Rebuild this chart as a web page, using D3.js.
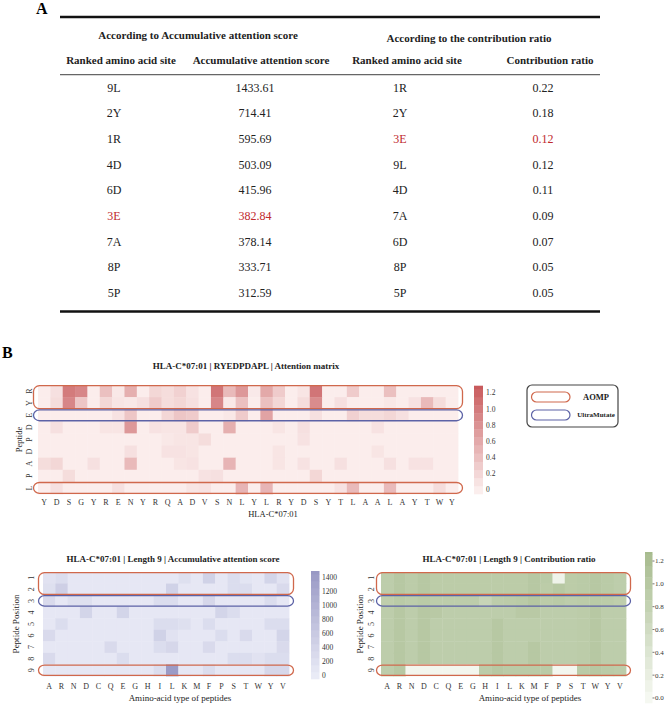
<!DOCTYPE html>
<html><head><meta charset="utf-8">
<script src="https://cdn.jsdelivr.net/npm/d3@7"></script>
<style>
body{margin:0;background:#fff}
svg{display:block;font-family:"Liberation Serif","Times New Roman",serif}
</style>
</head><body>
<svg id="c" width="666" height="706"></svg>
<script>
// ---------------- DATA ----------------
const scoreSites   = ["9L","2Y","1R","4D","6D","3E","7A","8P","5P"];
const scoreValues  = [1433.61, 714.41, 595.69, 503.09, 415.96, 382.84, 378.14, 333.71, 312.59];
const ratioSites   = ["1R","2Y","3E","9L","4D","7A","6D","8P","5P"];
const ratioValues  = [0.22, 0.18, 0.12, 0.12, 0.11, 0.09, 0.07, 0.05, 0.05];
const highlightSite = "3E";

const peptideResidues = ["R","Y","E","D","P","D","A","P","L"];
const hlaResidues = ["Y","D","S","G","Y","R","E","N","Y","R","Q","A","D","V","S","N","L","Y","L","R","Y","D","S","Y","T","L","A","A","L","A","Y","T","W","Y"];
const attnR = [0.01,0.12,1.00,0.90,0.01,0.40,0.05,0.55,0.01,0.20, 0.15,0.25,0.10,0.01,1.05,0.45,0.75,0.04,0.60,0.30, 0.01,0.08,1.05,0.01,0.01,0.30,0.01,0.01,0.40,0.01, 0.01,0.01,0.01,0.01];
const attnY = [0.01,0.15,0.90,0.35,0.01,0.20,0.08,0.05,0.12,0.30, 0.15,0.20,0.12,0.01,0.90,0.05,0.40,0.01,0.40,0.20, 0.01,0.15,0.85,0.01,0.12,0.01,0.01,0.01,0.05,0.01, 0.10,0.45,0.15,0.01];
const attnE = [0.01,0.01,0.01,0.01,0.01,0.01,0.10,0.35,0.01,0.01, 0.20,0.35,0.30,0.01,0.01,0.05,0.30,0.01,0.65,0.01, 0.01,0.01,0.12,0.01,0.01,0.25,0.15,0.15,0.20,0.12, 0.01,0.01,0.01,0.01];
const attnD4 = [0.01,0.12,0.01,0.01,0.01,0.08,0.08,0.75,0.01,0.10, 0.08,0.08,0.30,0.01,0.01,0.55,0.01,0.01,0.01,0.08, 0.01,0.12,0.01,0.01,0.01,0.01,0.01,0.10,0.01,0.01, 0.01,0.01,0.01,0.01];
const attnP5 = [0.01,0.01,0.01,0.01,0.01,0.01,0.01,0.01,0.01,0.01, 0.05,0.08,0.08,0.15,0.01,0.01,0.01,0.01,0.01,0.01, 0.01,0.10,0.01,0.01,0.01,0.01,0.01,0.01,0.01,0.01, 0.01,0.01,0.01,0.01];
const attnD6 = [0.01,0.01,0.01,0.01,0.01,0.01,0.01,0.12,0.01,0.01, 0.10,0.10,0.08,0.01,0.01,0.01,0.01,0.01,0.01,0.08, 0.01,0.01,0.01,0.01,0.01,0.01,0.01,0.08,0.01,0.01, 0.01,0.01,0.01,0.01];
const attnA = [0.15,0.20,0.01,0.01,0.12,0.01,0.01,0.45,0.01,0.01, 0.01,0.08,0.10,0.01,0.01,0.50,0.01,0.01,0.01,0.08, 0.01,0.10,0.01,0.01,0.12,0.01,0.01,0.01,0.12,0.01, 0.10,0.10,0.01,0.01];
const attnP8 = [0.01,0.01,0.15,0.01,0.01,0.01,0.01,0.01,0.01,0.01, 0.01,0.01,0.01,0.10,0.12,0.01,0.01,0.01,0.01,0.01, 0.01,0.01,0.20,0.01,0.01,0.01,0.01,0.01,0.01,0.01, 0.01,0.01,0.01,0.01];
const attnL = [0.01,0.12,0.01,0.01,0.01,0.01,0.12,0.01,0.01,0.01, 0.01,0.01,0.08,0.10,0.01,0.01,0.50,0.01,0.50,0.01, 0.01,0.01,0.01,0.01,0.10,0.45,0.01,0.01,0.45,0.01, 0.01,0.01,0.15,0.01];
const attentionMatrix = [attnR, attnY, attnE, attnD4, attnP5, attnD6, attnA, attnP8, attnL];
const attnTicks = [0, 0.2, 0.4, 0.6, 0.8, 1.0, 1.2];

const aminoAcids = ["A","R","N","D","C","Q","E","G","H","I","L","K","M","F","P","S","T","W","Y","V"];
const positions = ["1","2","3","4","5","6","7","8","9"];
const scorePos1 = [150,250,60,60,60,60,60,60,60,60,60,200,60,450,60,250,100,60,400,150];
const scorePos2 = [200,500,60,60,60,60,60,60,60,60,450,60,60,60,60,250,250,60,60,300];
const scorePos3 = [300,60,200,200,60,60,60,60,60,250,250,60,60,350,60,60,60,60,250,60];
const scorePos4 = [60,60,60,400,60,60,400,60,60,60,60,60,60,60,400,250,60,60,60,60];
const scorePos5 = [60,250,60,60,60,60,60,60,60,250,250,200,60,250,60,60,60,60,250,250];
const scorePos6 = [300,60,60,60,60,60,60,60,60,450,150,60,60,60,250,60,300,60,60,400];
const scorePos7 = [60,60,60,60,60,300,60,60,60,250,350,60,60,300,60,60,60,60,60,300];
const scorePos8 = [300,60,60,60,60,60,250,60,60,60,60,60,60,60,60,250,250,150,250,250];
const scorePos9 = [60,60,60,60,60,60,60,60,60,250,1430,60,60,250,60,60,60,60,350,350];
const scoreMatrix = [scorePos1,scorePos2,scorePos3,scorePos4,scorePos5,scorePos6,scorePos7,scorePos8,scorePos9];
const scoreTicks = [0,200,400,600,800,1000,1200,1400];

const ratioPos1 = [0.90,1.00,0.92,1.00,0.93,0.93,0.93,0.93,0.93,0.93,0.93,0.93,1.00,0.95,0.10,0.93,0.95,1.00,0.95,0.90];
const ratioPos2 = [0.90,1.00,0.92,1.00,0.93,0.93,0.93,0.93,0.93,0.93,0.93,0.93,1.00,0.93,1.00,0.93,0.95,1.00,0.95,0.90];
const ratioPos3 = [0.88,0.95,0.90,0.95,0.90,0.90,0.90,0.90,0.75,0.90,0.92,0.95,1.02,0.92,0.95,0.90,0.92,0.95,0.92,0.88];
const ratioPos4 = [0.90,1.00,0.90,1.00,0.98,0.90,0.90,0.90,0.90,0.90,0.90,0.98,0.98,0.90,0.90,0.90,0.92,1.00,0.90,0.90];
const ratioPos5 = [0.90,1.00,0.90,1.00,0.90,0.90,0.90,0.90,0.90,1.00,0.90,0.90,0.90,0.90,0.90,0.90,0.92,1.00,0.90,0.90];
const ratioPos6 = [0.90,1.00,0.90,1.00,0.90,0.90,0.90,0.90,0.90,1.00,0.90,0.90,0.90,0.90,0.90,0.90,0.92,1.00,0.90,0.90];
const ratioPos7 = [0.90,1.00,0.90,1.00,0.90,0.90,0.90,0.90,0.90,1.00,0.90,0.90,1.00,0.90,0.90,0.90,0.92,1.00,0.90,0.90];
const ratioPos8 = [0.90,1.00,0.90,1.00,0.90,0.90,0.90,0.90,0.90,1.00,0.90,0.90,1.00,0.90,0.90,0.90,0.92,1.00,0.90,0.90];
const ratioPos9 = [0.90,1.00,0.04,0.04,0.04,0.04,0.04,0.04,0.92,1.00,0.95,0.95,0.95,0.95,0.03,0.03,0.95,1.00,0.95,0.92];
const ratioMatrix = [ratioPos1,ratioPos2,ratioPos3,ratioPos4,ratioPos5,ratioPos6,ratioPos7,ratioPos8,ratioPos9];
const ratioTicks = [0,0.2,0.4,0.6,0.8,1.0,1.2];

// outlined peptide positions (0-based row indices)
const aompGroups = [[0,1],[8]];
const ultraGroups = [[2]];
const legendNames = ["AOMP","UltraMutate"];

// ---------------- DRAW ----------------
const svg = d3.select("#c");
svg.append("rect").attr("width",666).attr("height",706).attr("fill","#fff");
const AOMP_C = "#d0684c", ULTRA_C = "#5c62a6", RED_HL = "#c0282d";

// ----- Panel A: table -----
svg.append("text").text("A").attr("x",36).attr("y",13.5).attr("font-size",16).attr("font-weight","bold");
const tx0 = 60, tx1 = 600;
svg.append("line").attr("x1",tx0).attr("x2",tx1).attr("y1",17).attr("y2",17).attr("stroke","#111").attr("stroke-width",2.4);
svg.append("line").attr("x1",tx0).attr("x2",tx1).attr("y1",74.7).attr("y2",74.7).attr("stroke","#666").attr("stroke-width",1.3);
svg.append("line").attr("x1",tx0).attr("x2",tx1).attr("y1",311.5).attr("y2",311.5).attr("stroke","#111").attr("stroke-width",2.4);

const groupHead = [{t:"According to Accumulative attention score", x:198, y:39.3},{t:"According to the contribution ratio", x:469, y:42}];
svg.selectAll(".gh").data(groupHead).join("text").attr("x",d=>d.x).attr("y",d=>d.y)
  .attr("text-anchor","middle").attr("font-size",11).attr("font-weight","bold").attr("fill","#222").text(d=>d.t);
const colX = [114, 255, 400, 543];
const subHead = ["Ranked amino acid site","Accumulative attention score","Ranked amino acid site","Contribution ratio"];
const subX = [121, 261, 407, 550];
svg.selectAll(".sh").data(subHead).join("text").attr("x",(d,i)=>subX[i]).attr("y",64)
  .attr("text-anchor","middle").attr("font-size",11).attr("font-weight","bold").attr("fill","#222").text(d=>d);

const rowY = d3.scalePoint().domain(d3.range(scoreSites.length)).range([87.3, 293]);
const tableRows = scoreSites.map((s,i)=>[
  {t:s, red:s===highlightSite},
  {t:scoreValues[i].toFixed(2), red:s===highlightSite},
  {t:ratioSites[i], red:ratioSites[i]===highlightSite},
  {t:ratioValues[i].toFixed(2), red:ratioSites[i]===highlightSite}
]);
tableRows.forEach((row,i)=>{
  row.forEach((cell,j)=>{
    svg.append("text").attr("x",colX[j]).attr("y",rowY(i)).attr("dy","0.35em")
      .attr("text-anchor","middle").attr("font-size",12).attr("fill",cell.red?RED_HL:"#222").text(cell.t);
  });
});

// ----- Panel B -----
svg.append("text").text("B").attr("x",2).attr("y",358).attr("font-size",16).attr("font-weight","bold");

function heatmap(o){
  const g = svg.append("g");
  const x = d3.scaleBand().domain(d3.range(o.xLabels.length)).range([o.left, o.left+o.width]);
  const y = d3.scaleBand().domain(d3.range(o.yLabels.length)).range([o.top, o.top+o.height]);
  const cells = o.values.flatMap((row,r)=>row.map((v,c)=>({r,c,v})));
  g.selectAll("rect.cell").data(cells).join("rect").attr("class","cell")
    .attr("x",d=>x(d.c)).attr("y",d=>y(d.r))
    .attr("width",x.bandwidth()+0.4).attr("height",y.bandwidth()+0.4)
    .attr("fill",d=>o.color(d.v));
  const ax = g.append("g").attr("transform",`translate(0,${o.top+o.height})`)
    .call(d3.axisBottom(x).tickSize(0).tickPadding(o.xPad).tickFormat(i=>o.xLabels[i]));
  ax.select(".domain").remove();
  ax.selectAll("text").attr("font-family","Liberation Serif, serif").attr("font-size",o.tickFont).attr("fill","#333");
  g.selectAll("text.ylab").data(o.yLabels).join("text").attr("class","ylab")
    .attr("x",o.left-o.yPad).attr("y",(d,i)=>y(i)+y.bandwidth()/2)
    .attr("transform",(d,i)=>`rotate(-90,${o.left-o.yPad},${y(i)+y.bandwidth()/2})`)
    .attr("text-anchor","middle").attr("dy","0.35em").attr("font-size",o.tickFont).attr("fill","#333").text(d=>d);
  g.append("text").attr("x",o.titleX).attr("y",o.titleY).attr("text-anchor","middle")
    .attr("font-size",o.titleFont).attr("font-weight","bold").attr("fill","#222").text(o.title);
  g.append("text").attr("x",o.xLabelX).attr("y",o.xLabelY).attr("text-anchor","middle")
    .attr("font-size",o.labelFont).attr("fill","#222").text(o.xTitle);
  g.append("text").attr("transform",`translate(${o.yLabelX},${o.top+o.height/2}) rotate(-90)`)
    .attr("text-anchor","middle").attr("font-size",o.labelFont).attr("fill","#222").text(o.yTitle);
  const outline = (grp, col)=>{
    const y0 = y(grp[0]) + 0.6, y1 = y(grp[grp.length-1]) + y.bandwidth() - 0.6;
    g.append("rect").attr("x",o.left-4.5).attr("y",y0).attr("width",o.width+9).attr("height",y1-y0)
      .attr("rx",6).attr("ry",6).attr("fill","none").attr("stroke",col).attr("stroke-width",1.3);
  };
  aompGroups.forEach(gr=>outline(gr,AOMP_C));
  ultraGroups.forEach(gr=>outline(gr,ULTRA_C));
  return {x,y};
}

function colorbar(o){
  const g = svg.append("g");
  const cy = d3.scaleLinear().domain(o.domain).range([o.bottom, o.top]);
  const edges = d3.range(o.domain[0], o.domain[1], o.step);
  g.selectAll("rect").data(edges).join("rect")
    .attr("x",o.x).attr("width",o.w)
    .attr("y",d=>cy(Math.min(d+o.step,o.domain[1])))
    .attr("height",d=>cy(d)-cy(Math.min(d+o.step,o.domain[1]))+0.3)
    .attr("fill",d=>o.color(Math.min(d+o.step/2,o.domain[1])));
  if(o.tickMarks){
    g.selectAll("line").data(o.ticks).join("line")
      .attr("x1",o.x+o.w).attr("x2",o.x+o.w+2).attr("y1",d=>cy(d)).attr("y2",d=>cy(d))
      .attr("stroke","#555").attr("stroke-width",0.8);
  }
  g.selectAll("text").data(o.ticks).join("text")
    .attr("x",o.labelX).attr("y",d=>cy(d)).attr("dy","0.35em")
    .attr("font-size",o.font||7.5).attr("fill","#333").text(o.fmt);
}

// top attention heatmap
const redColor = d3.scaleLinear().domain([-0.053, 1.287]).range(["#fdf4f3","#c85a5c"]).clamp(true);
heatmap({
  left:38, top:385, width:420, height:109,
  xLabels:hlaResidues, yLabels:peptideResidues, values:attentionMatrix, color:redColor,
  xPad:5.5, yPad:9, tickFont:8,
  title:"HLA-C*07:01 | RYEDPDAPL | Attention matrix", titleX:246, titleY:369, titleFont:9,
  xTitle:"HLA-C*07:01", xLabelX:273, xLabelY:517, labelFont:8.5,
  yTitle:"Peptide", yLabelX:22
});
colorbar({x:474, w:9, top:385.7, bottom:494, domain:[-0.053,1.287], step:0.1, color:redColor,
  ticks:attnTicks, fmt:d=>d===0?"0":d.toFixed(1), labelX:486});

// legend
const lg = svg.append("g");
lg.append("rect").attr("x",527).attr("y",385).attr("width",91).attr("height",42).attr("rx",5)
  .attr("fill","#fff").attr("stroke","#444").attr("stroke-width",1.2);
const legendCols = [AOMP_C, ULTRA_C];
const legendY = d3.scalePoint().domain(legendNames).range([397, 415]);
legendNames.forEach((n,i)=>{
  lg.append("rect").attr("x",531.5).attr("y",legendY(n)-5).attr("width",38.5).attr("height",10).attr("rx",5)
    .attr("fill","none").attr("stroke",legendCols[i]).attr("stroke-width",1.2);
  lg.append("text").attr("x",596).attr("y",legendY(n)).attr("dy","0.35em").attr("text-anchor","middle")
    .attr("font-size",i===0?8.5:7).attr("font-weight","bold").attr("fill","#222").text(n);
});

// bottom-left: accumulative attention score
const purpleColor = d3.scaleLinear().domain([-57, 1486]).range(["#eceef8","#9898c4"]).clamp(true);
heatmap({
  left:43, top:572, width:246, height:104,
  xLabels:aminoAcids, yLabels:positions, values:scoreMatrix, color:purpleColor,
  xPad:7.5, yPad:12, tickFont:8,
  title:"HLA-C*07:01 | Length 9 | Accumulative attention score", titleX:173, titleY:561.5, titleFont:9,
  xTitle:"Amino-acid type of peptides", xLabelX:180, xLabelY:701, labelFont:9,
  yTitle:"Peptide Position", yLabelX:19
});
colorbar({x:311, w:8.5, top:571, bottom:679, domain:[-57,1486], step:100, color:purpleColor,
  ticks:scoreTicks, fmt:d=>String(d), labelX:322});

// bottom-right: contribution ratio
const greenColor = d3.scaleLinear().domain([-0.044, 1.279]).range(["#f8faf5","#a6bb8d"]).clamp(true);
heatmap({
  left:381, top:572, width:245, height:104,
  xLabels:aminoAcids, yLabels:positions, values:ratioMatrix, color:greenColor,
  xPad:7.5, yPad:10, tickFont:8,
  title:"HLA-C*07:01 | Length 9 | Contribution ratio", titleX:509, titleY:561.5, titleFont:9,
  xTitle:"Amino-acid type of peptides", xLabelX:530, xLabelY:701, labelFont:9,
  yTitle:"Peptide Position", yLabelX:363
});
colorbar({x:645, w:7.5, top:552, bottom:703, domain:[-0.044,1.279], step:0.1, color:greenColor,
  ticks:ratioTicks, fmt:d=>d.toFixed(1), labelX:655, tickMarks:true, font:7});
</script>
</body></html>
